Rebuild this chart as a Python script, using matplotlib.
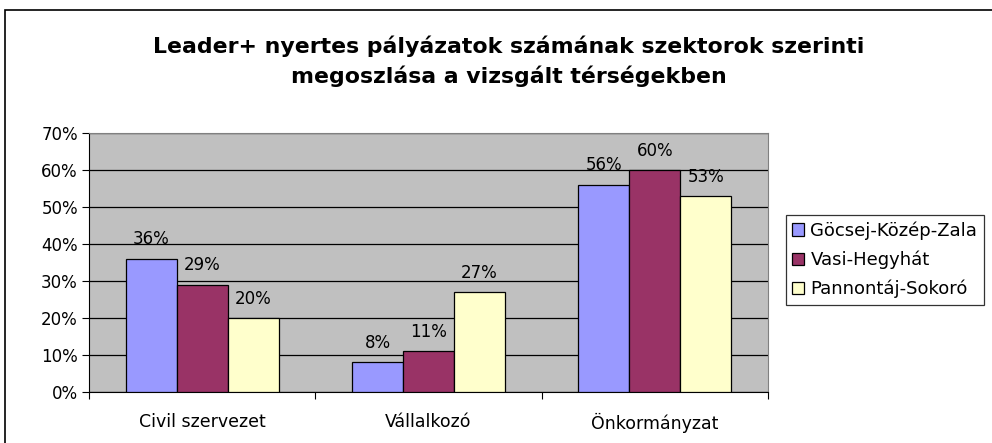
import matplotlib
matplotlib.use("Agg")
import matplotlib.pyplot as plt
from matplotlib.patches import Rectangle
import numpy as np

categories = ["Civil szervezet", "Vállalkozó", "Önkormányzat"]
series_names = ["Göcsej-Közép-Zala", "Vasi-Hegyhát", "Pannontáj-Sokoró"]
gocsej = [36, 8, 56]
vasi = [29, 11, 60]
pannon = [20, 27, 53]
colors = ["#9999FF", "#993366", "#FFFFCC"]
yticks = [0, 10, 20, 30, 40, 50, 60, 70]
title = "Leader+ nyertes pályázatok számának szektorok szerinti\nmegoszlása a vizsgált térségekben"

plt.rcParams['font.family'] = ['DejaVu Sans']

fig = plt.figure(figsize=(9.92, 4.43), dpi=100)
W, H = 992, 443
fig.patches.append(Rectangle((5 / W, -0.05), 1.2, (H - 10) / H + 0.05, transform=fig.transFigure,
                             fill=False, edgecolor="black", linewidth=1.2, zorder=0))

ax = fig.add_axes([89 / W, (H - 392) / H, (768 - 89) / W, (392 - 133) / H])
ax.set_facecolor("#C0C0C0")
x = np.arange(len(categories))
bw = 0.225
for i, (vals, name, c) in enumerate(zip([gocsej, vasi, pannon], series_names, colors)):
    pos = x + (i - 1) * bw
    ax.bar(pos, vals, bw, color=c, edgecolor="black", linewidth=0.9, label=name, zorder=3)
    for p, v in zip(pos, vals):
        ax.text(p, v + 2.8, f"{v}%", ha="center", va="bottom", fontsize=12, zorder=4)

ax.set_xlim(-0.5, 2.5)
ax.set_ylim(0, 70)
ax.set_yticks(yticks)
ax.set_yticklabels([f"{t}%" for t in yticks], fontsize=12)
ax.yaxis.grid(True, color="black", linewidth=0.9, zorder=1)
ax.set_axisbelow(True)
ax.set_xticks([-0.5, 0.5, 1.5, 2.5])
ax.set_xticklabels([])
ax.set_xticks(x, minor=True)
ax.set_xticklabels(categories, minor=True, fontsize=12.5)
ax.tick_params(axis="x", which="minor", length=0, pad=15)
ax.tick_params(axis="x", which="major", length=5, direction="out", color="black")
ax.tick_params(axis="y", length=5, direction="out", pad=3)
for s in ["top", "right"]:
    ax.spines[s].set_color("#808080")
for s in ["left", "bottom"]:
    ax.spines[s].set_color("black")

fig.text(509 / W, (H - 61) / H, title, ha="center", va="center",
         fontsize=15.8, fontweight="bold", linespacing=1.5)

leg = fig.legend(loc="upper left", bbox_to_anchor=(786 / W, (H - 215) / H), fontsize=13,
                 frameon=True, fancybox=False, edgecolor="black", handlelength=0.65,
                 handleheight=0.65, handletextpad=0.35, borderpad=0.35, labelspacing=0.6,
                 borderaxespad=0)
leg.get_frame().set_linewidth(0.9)

fig.savefig("out.png", dpi=100)
